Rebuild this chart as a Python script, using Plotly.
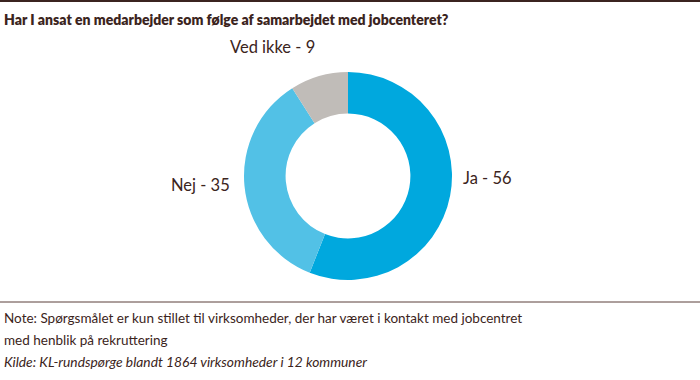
import plotly.graph_objects as go

categories = ["Ja", "Nej", "Ved ikke"]
values = [56, 35, 9]
colors = ["#00a8de", "#52c1e6", "#c0bcb8"]

title_text = "Har I ansat en medarbejder som følge af samarbejdet med jobcenteret?"
note_lines = ["Note: Spørgsmålet er kun stillet til virksomheder, der har været i kontakt med jobcentret",
              "med henblik på rekruttering"]
source_text = "Kilde: KL-rundspørge blandt 1864 virksomheder i 12 kommuner"

W, H = 700, 380
txt = "#3b2420"
FONT = "Lato, sans-serif"

fig = go.Figure(go.Pie(
    labels=categories, values=values,
    marker=dict(colors=colors, line=dict(width=0)),
    hole=0.6, sort=False, direction="clockwise", rotation=0,
    textposition="none",
    showlegend=False, hoverinfo="label+value",
    domain=dict(x=[348/W - 104/W, 348/W + 104/W], y=[1 - 280/H, 1 - 72/H]),
))

shapes = [
    dict(type="line", xref="paper", yref="paper", x0=0, x1=1, y0=1 - 1/H, y1=1 - 1/H,
         line=dict(color=txt, width=2)),
    dict(type="line", xref="paper", yref="paper", x0=0, x1=1, y0=1 - 302/H, y1=1 - 302/H,
         line=dict(color="#5a3f3a", width=1)),
]

def a(text, x, y, xanchor="left", size=14, weight="normal"):
    return dict(text=text, x=x/W, y=1 - y/H, xref="paper", yref="paper",
                xanchor=xanchor, yanchor="middle", showarrow=False,
                font=dict(family=FONT, size=size, color=txt, weight=weight))

label_pos = {"Ja": (461, 178, "left"), "Nej": (232, 185, "right"), "Ved ikke": (272, 47, "center")}
ann = [a(title_text, 2, 19, size=14, weight=800)]
for c, v in zip(categories, values):
    x, y, xa = label_pos[c]
    ann.append(a(f"{c} - {v}", x, y, xa, size=16.5))
ann += [
    a(note_lines[0], 2, 318, size=13.5),
    a(note_lines[1], 2, 340, size=13.5),
    a("<i>" + source_text + "</i>", 2, 361, size=13.8),
]

fig.update_layout(width=W, height=H, margin=dict(l=0, r=0, t=0, b=0),
                  paper_bgcolor="white", plot_bgcolor="white",
                  shapes=shapes, annotations=ann)
fig.write_html("out.html", config={"displayModeBar": False},
               post_script="document.body.style.margin='0';document.body.style.padding='0';")
